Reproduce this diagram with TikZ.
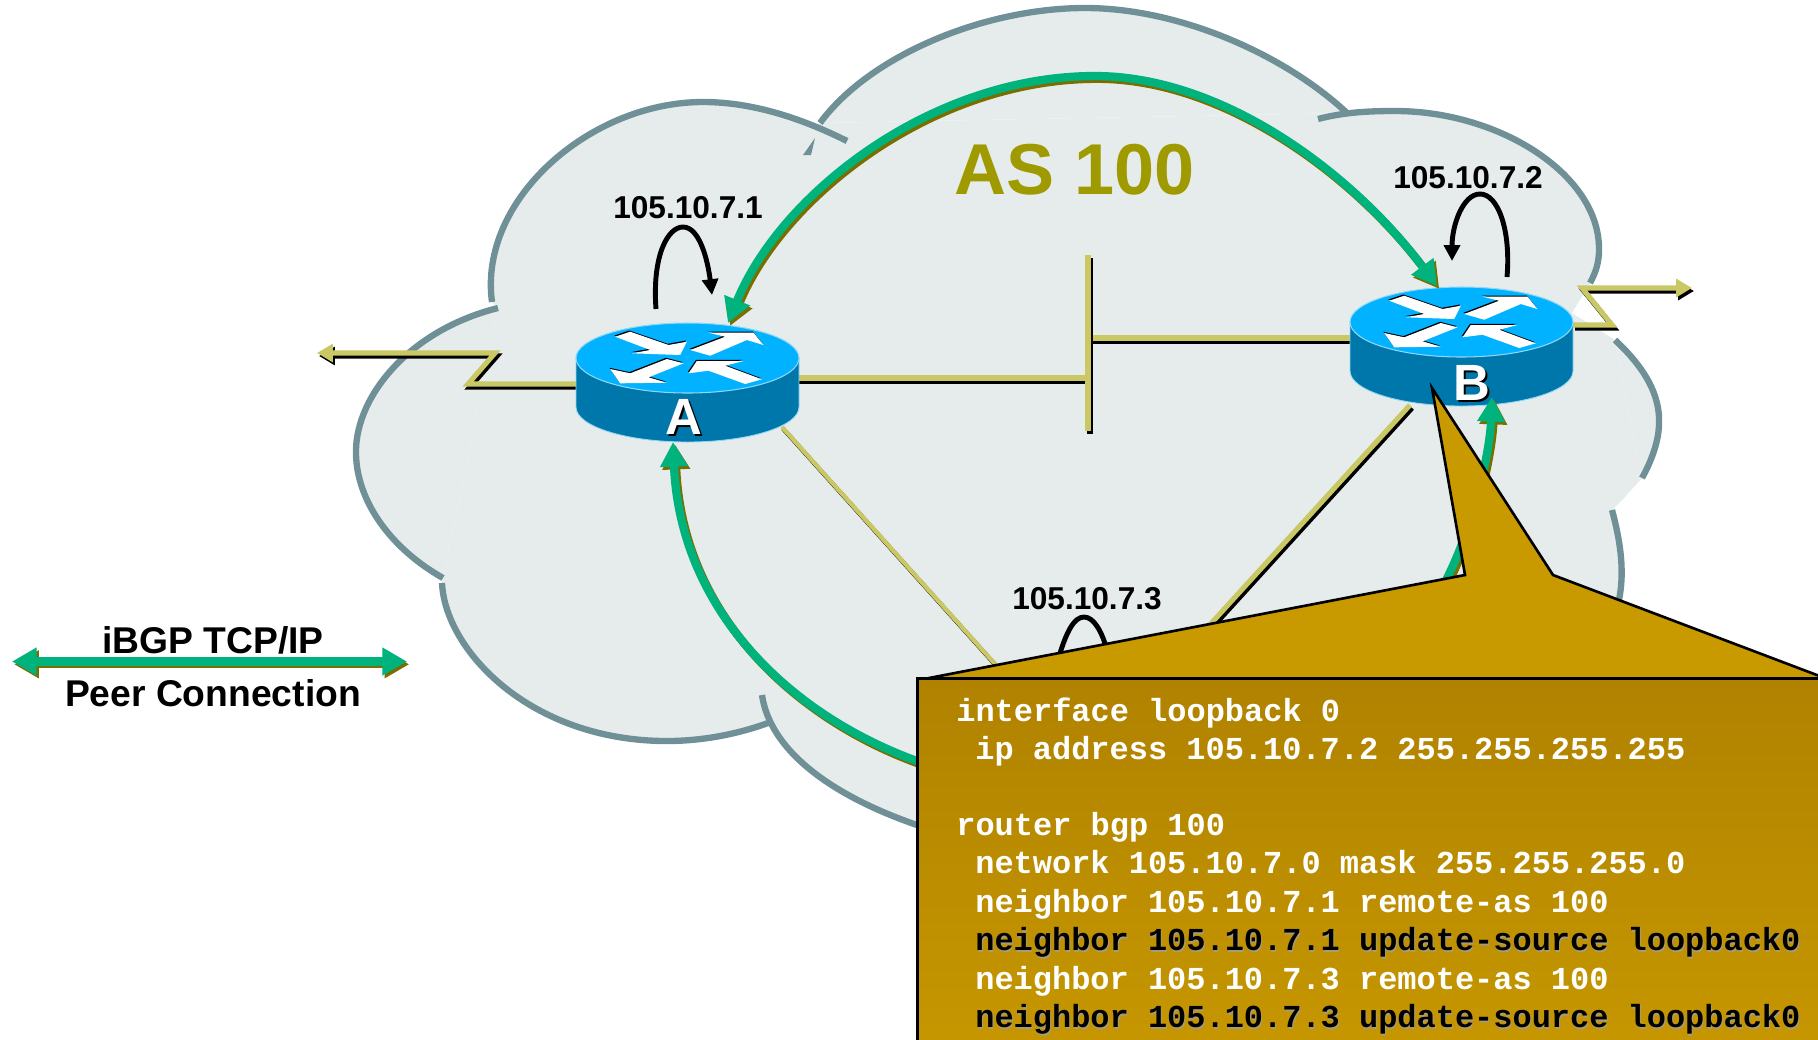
\documentclass[tikz,border=0pt]{standalone}
\usepackage{fontspec}
\setmainfont{Liberation Sans}
\setmonofont{Liberation Mono}
\usetikzlibrary{arrows.meta}
\definecolor{cloudfill}{HTML}{E6ECEC}
\definecolor{cloudline}{HTML}{6E9096}
\definecolor{linkkhaki}{HTML}{C9C864}
\definecolor{bgpgreen}{HTML}{00B27C}
\definecolor{bgpshadow}{HTML}{7A6E00}
\definecolor{routertop}{HTML}{00B2FF}
\definecolor{routerside}{HTML}{0077AA}
\definecolor{routeredge}{HTML}{8FD8F5}
\definecolor{asolive}{HTML}{9F9A00}
\definecolor{notetop}{HTML}{B08200}
\definecolor{notebot}{HTML}{C69700}
\definecolor{notetail}{HTML}{C99900}
\definecolor{codeshadow}{HTML}{A89C78}
\begin{document}
\begin{tikzpicture}[x=0.02cm,y=-0.02cm,line join=miter,
	cloudlobe/.style={fill=cloudfill,draw=cloudline,line width=3.6pt},
	linkline/.style={draw=linkkhaki,line width=2.9pt,>={Triangle[length=9pt,width=10pt]},preaction={draw=black,line width=2.9pt,transform canvas={shift={(2,3)}}}},
	thinlink/.style={draw=linkkhaki,line width=2.4pt,preaction={draw=black,line width=2.4pt,transform canvas={shift={(1.2,1.8)}}}},
	bgpline/.style={draw=bgpgreen,line width=4.7pt,>={Triangle[length=14pt,width=15pt]},preaction={draw=bgpshadow,line width=4.7pt,transform canvas={shift={(2.2,2.8)}}}},
	loopline/.style={draw=black,line width=2.8pt,>={Triangle[length=9pt,width=9pt]}},
	addrlabel/.style={font=\fontsize{18}{20}\selectfont\bfseries,inner sep=0pt},
	legendlabel/.style={font=\fontsize{21.2}{24}\selectfont\bfseries,inner sep=0pt},
	routerlabel/.style={font=\fontsize{29}{32}\selectfont\bfseries,inner sep=0pt},
	routerbase/.style={minimum width=4.46cm,minimum height=2.38cm,inner sep=0pt},
	codetext/.style={font=\fontsize{18.2}{20}\selectfont\ttfamily\bfseries,anchor=base west,inner sep=0pt},
	routerpic/.pic={
		\fill[routerside,draw=routeredge,line width=0.5pt] (-111.5,-24.5) -- (-111.5,24.5) arc[start angle=180,end angle=0,x radius=111.5,y radius=35] -- (111.5,-24.5) -- cycle;
		\fill[routertop,draw=routeredge,line width=0.6pt] (0,-24.5) ellipse [x radius=111.5,y radius=35];
		\begin{scope}[shift={(0,-24.5)}]
			\fill[black,shift={(-0.8,-1.2)}] \routerglyph;
			\fill[white] \routerglyph;
		\end{scope}
	}]
	\def\routerglyph{(-72.3,-21.3)--(-57.3,-26.3)--(-19,-13)--(-0.7,-16.3)--(-7.3,-3)--(-55.7,-4.7)--(-37.3,-8)--cycle
		(2.7,-8)--(37.7,-21.3)--(21,-25.3)--(66,-25.3)--(76,-13)--(59.3,-18)--(22.7,-2.3)--cycle
		(-4,5.3)--(-20.7,1)--(-57.3,15.3)--(-77.3,11)--(-67.3,25.3)--(-20.7,24.7)--(-39,19.3)--cycle
		(1,15.3)--(9.3,3)--(56,3)--(37.7,7.7)--(74.3,21.3)--(57.7,26)--(21,12.7)--cycle}
	\path[use as bounding box,clip] (0,0) rectangle (1818,1039);

	\fill[cloudfill] (498,308) -- (492,302) -- (820,123) -- (1347,113) -- (1590,283) -- (1572,313) -- (1615,340) -- (1642,478) -- (1625,497) -- (1612,510) -- (1619,598) -- (1300,830) -- (917,825) -- (762,695) -- (768,723) -- (442,583) -- (443,578) -- cycle;
	\path[cloudlobe] (443,578) .. controls (385,545) and (355,495) .. (356,450) .. controls (357,395) and (410,330) .. (498,308);
	\path[cloudlobe] (820,123) .. controls (870,55) and (985,8) .. (1085,8) .. controls (1180,8) and (1285,55) .. (1347,113);
	\path[cloudlobe] (492,302) .. controls (478,200) and (590,102) .. (703,102) .. controls (755,102) and (805,120) .. (847,141);
	\path[cloudlobe] (1318,119) .. controls (1345,112) and (1370,111) .. (1395,111) .. controls (1500,111) and (1600,175) .. (1599,250) .. controls (1599,262) and (1596,272) .. (1590,283);
	\path[cloudlobe] (1615,340) .. controls (1645,368) and (1660,395) .. (1659,423) .. controls (1659,440) and (1652,460) .. (1642,478);
	\path[cloudlobe] (1612,510) .. controls (1620,540) and (1625,570) .. (1619,600);
	\path[cloudlobe] (442,583) .. controls (445,650) and (530,741) .. (667,741) .. controls (700,741) and (735,735) .. (768,723);
	\path[cloudlobe] (762,695) .. controls (770,750) and (830,795) .. (917,825);
	\fill[cloudline] (815,138) -- (803,155) -- (811,155) -- cycle;

	\node[routerbase] (routerA) at (687.5,382.5) {};
	\node[routerbase] (routerB) at (1461.5,346.5) {};
	\coordinate (routerC) at (1084,763);
	\coordinate (lanTop) at (1088,255);
	\coordinate (lanBot) at (1088,431);
	\coordinate (lanLeft) at (1088,378);
	\coordinate (lanRight) at (1088,338);
	\coordinate (portAlow) at (782,427);
	\coordinate (portBlow) at (1410,405);
	\coordinate (portAout) at (576,384);
	\coordinate (portBout) at (1573,325);
	\coordinate (stubA) at (317,353);
	\coordinate (stubB) at (1692,288);
	\coordinate (peerAtop) at (728,323);
	\coordinate (peerBtop) at (1437,286);
	\coordinate (peerAbot) at (673,442);
	\coordinate (peerBbot) at (1492,397);
	\coordinate (legendL) at (12,661.5);
	\coordinate (legendR) at (407,661.5);

	\draw[linkline] (routerA.center |- lanLeft) -- (lanLeft);
	\draw[linkline] (routerB.center |- lanRight) -- (lanRight);
	\draw[linkline] (lanTop) -- (lanBot);
	\draw[thinlink] (portAlow) -- (routerC);
	\draw[linkline] (portBlow) -- (routerC);
	\draw[linkline,->] (portAout) -- (468,384) -- (495,353) -- (stubA);
	\draw[linkline,->] (portBout) -- (1612,325) -- (1582,288) -- (stubB);

	\pic at (routerA) {routerpic};
	\pic at (routerB) {routerpic};

	\draw[bgpline,<->] (peerAtop) .. controls (780,195) and (930,76) .. (1095,76) .. controls (1220,76) and (1350,170) .. (peerBtop);
	\draw[bgpline,<-] (peerAbot) .. controls (680,610) and (790,715) .. (917,761) -- (routerC);
	\draw[bgpline,<-] (peerBbot) .. controls (1490,450) and (1475,520) .. (1450,572) -- (1425,625) -- (routerC);
	\draw[bgpline,<->] (legendL) -- (legendR);

	\draw[loopline,->] (656,309) .. controls (652,255) and (668,227) .. (683,227) .. controls (700,227) and (708,262) .. (712,295);
	\draw[loopline,->] (1507,277) .. controls (1511,230) and (1498,194) .. (1480,194) .. controls (1463,194) and (1452,225) .. (1452,261);
	\draw[loopline] (1058,660) .. controls (1066,632) and (1074,617) .. (1084,617) .. controls (1094,617) and (1102,632) .. (1107,650);

	\node[addrlabel] (addrA) at (688,208) {105.10.7.1};
	\node[addrlabel] (addrB) at (1468,178) {105.10.7.2};
	\node[addrlabel] (addrC) at (1087,599) {105.10.7.3};
	\node[font=\fontsize{41}{44}\selectfont\bfseries,text=asolive,inner sep=0pt] (asname) at (1075,170) {AS 100};
	\node[legendlabel] (legendtop) at (213,640) {iBGP TCP/IP};
	\node[legendlabel] (legendbot) at (213,693) {Peer Connection};

	\node[routerlabel,text=black] (labelAback) at (686,419) {A};
	\node[routerlabel,text=white] (labelA) at (684,417) {A};
	\node[routerlabel,text=black] (labelBback) at (1474,385) {B};
	\node[routerlabel,text=white] (labelB) at (1472,383) {B};

	\fill[notetail,draw=black,line width=1.5pt] (929,678) -- (1465,575) -- (1432,388) -- (1553,575) -- (1830,680) -- (1830,700) -- (929,700) -- cycle;
	\path[top color=notetop,bottom color=notebot,draw=black,line width=1.7pt] (917,678) rectangle (1830,1050);

	\node[codetext,text=white] (cfgLoop) at (956,721) {interface loopback 0};
	\node[codetext,text=white] (cfgAddr) at (975,759) {ip address 105.10.7.2 255.255.255.255};
	\node[codetext,text=white] (cfgBgp) at (956,835) {router bgp 100};
	\node[codetext,text=white] (cfgNet) at (975,873) {network 105.10.7.0 mask 255.255.255.0};
	\node[codetext,text=white] (cfgRemA) at (975,912) {neighbor 105.10.7.1 remote-as 100};
	\node[codetext,text=codeshadow] (cfgSrcAback) at (976,952) {neighbor 105.10.7.1 update-source loopback0};
	\node[codetext,text=black] (cfgSrcA) at (975,950) {neighbor 105.10.7.1 update-source loopback0};
	\node[codetext,text=white] (cfgRemC) at (975,989) {neighbor 105.10.7.3 remote-as 100};
	\node[codetext,text=codeshadow] (cfgSrcCback) at (976,1029) {neighbor 105.10.7.3 update-source loopback0};
	\node[codetext,text=black] (cfgSrcC) at (975,1027) {neighbor 105.10.7.3 update-source loopback0};
\end{tikzpicture}
\end{document}
